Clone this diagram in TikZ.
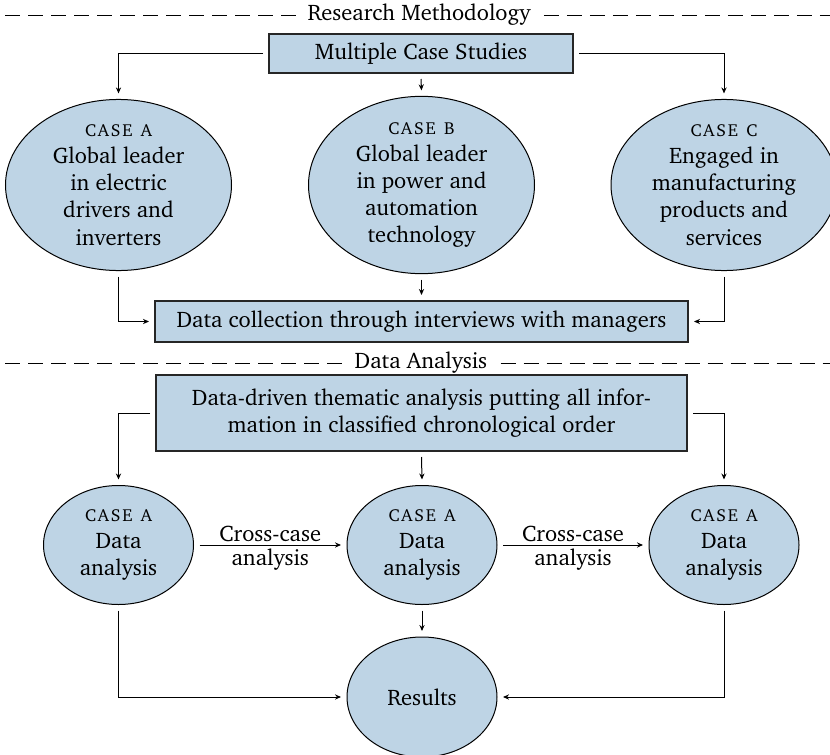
\documentclass[tikz,border=0pt]{standalone}
\IfFileExists{charter.sty}{\usepackage[T1]{fontenc}\usepackage{charter}}{\usepackage{fontspec}\setmainfont{DejaVu Serif}}
\usetikzlibrary{shapes.geometric,arrows.meta}
\definecolor{boxblue}{RGB}{190,212,229}
\newcommand{\mysc}[1]{{\fontsize{8.7}{10}\selectfont #1}}
\newcommand{\tk}{\kern0.9pt}
\begin{document}
\begin{tikzpicture}[x=0.5pt,y=-0.5pt,
  font=\fontsize{11.25}{13.6}\selectfont,
  box/.style={draw=black!85, fill=boxblue, line width=0.55pt, rectangle, inner sep=0pt, outer sep=3pt, align=center},
  oval/.style={draw=black, fill=boxblue, ellipse, line width=0.5pt, inner sep=0pt, outer sep=3pt, align=center},
  conn/.style={line width=0.5pt, -{Stealth[length=3pt,width=2.6pt]}},
  sect/.style={inner sep=4pt},
  sepline/.style={dash pattern=on 7.5pt off 4pt, dash phase=-2.5pt, line width=0.5pt}
]
\useasboundingbox (0,0) rectangle (830,755);

% section headers
\node[sect] (h1) at (419,15) {Research Methodology};
\coordinate (h1l) at (0,15);
\coordinate (h1r) at (830,15);
\draw[sepline] (h1l) -- (h1.west);
\draw[sepline] (h1.east) -- (h1r);

\node[sect] (h2) at (421,363) {Data Analysis};
\coordinate (h2l) at (0,363);
\coordinate (h2r) at (830,363);
\draw[sepline] (h2l) -- (h2.west);
\draw[sepline] (h2.east) -- (h2r);

% top part
\node[box, minimum width=152pt, minimum height=19.5pt] (mcs) at (421,53.5) {Multiple Case Studies};

\node[oval, minimum width=113pt, minimum height=80pt] (ca) at (118.5,185)
  {\mysc{C\tk A\tk S\tk E\tk\ \tk A}\\Global leader\\in electric\\drivers and\\inverters};
\node[oval, minimum width=113pt, minimum height=80pt] (cb) at (421.5,185)
  {\mysc{C\tk A\tk S\tk E\tk\ \tk B}\\Global leader\\in power and\\automation\\technology};
\node[oval, minimum width=113pt, minimum height=80pt] (cc) at (724,185)
  {\mysc{C\tk A\tk S\tk E\tk\ \tk C}\\Engaged in\\manufacturing\\products and\\services};

\node[box, minimum width=266.5pt, minimum height=20.5pt] (dcol) at (421.5,321.5)
  {Data collection through interviews with managers};

\draw[conn] (mcs.west) -| (ca.north);
\draw[conn] (mcs.south) -- (cb.north);
\draw[conn] (mcs.east) -| (cc.north);
\draw[conn] (ca.south) |- (dcol.west);
\draw[conn] (cb.south) -- (dcol.north);
\draw[conn] (cc.south) |- (dcol.east);

% bottom part
\node[box, minimum width=265.5pt, minimum height=38pt] (th) at (421.5,413)
  {Data-driven thematic analysis putting all infor-\\mation in classified chronological order};

\node[oval, minimum width=75pt, minimum height=59.5pt] (da) at (118.5,545)
  {\mysc{C\tk A\tk S\tk E\tk\ \tk A}\\Data\\analysis};
\node[oval, minimum width=75pt, minimum height=59.5pt] (db) at (422,545)
  {\mysc{C\tk A\tk S\tk E\tk\ \tk A}\\Data\\analysis};
\node[oval, minimum width=75pt, minimum height=59.5pt] (dd) at (724,545)
  {\mysc{C\tk A\tk S\tk E\tk\ \tk A}\\Data\\analysis};

\node[oval, minimum width=75pt, minimum height=60pt] (res) at (422,697) {Results};

\draw[conn] (th.west) -| (da.north);
\draw[conn] (th.south) -- (db.north);
\draw[conn] (th.east) -| (dd.north);

\draw[conn] (da.east) -- (db.west)
  node[midway, yshift=5.5pt, anchor=center] (x1a) {Cross-case}
  node[midway, yshift=-7.5pt, anchor=center] (x1b) {analysis};
\draw[conn] (db.east) -- (dd.west)
  node[midway, yshift=5.5pt, anchor=center] (x2a) {Cross-case}
  node[midway, yshift=-7.5pt, anchor=center] (x2b) {analysis};

\draw[conn] (da.south) |- (res.west);
\draw[conn] (db.south) -- (res.north);
\draw[conn] (dd.south) |- (res.east);
\end{tikzpicture}
\end{document}
